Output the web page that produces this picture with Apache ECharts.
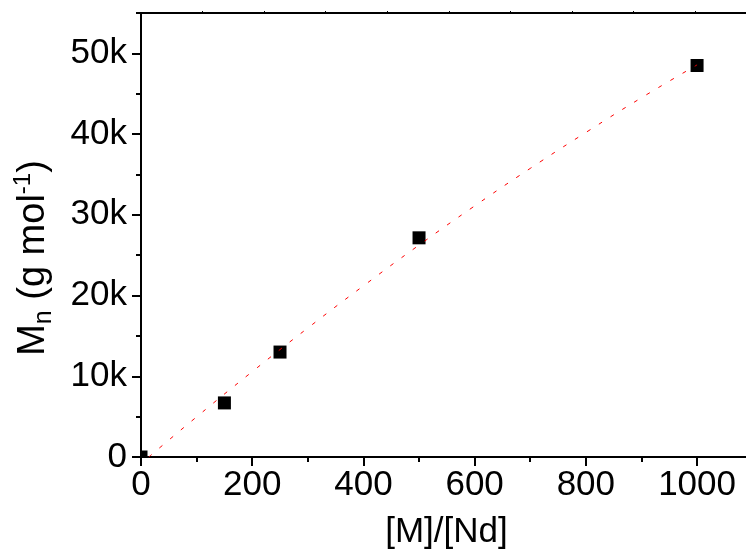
<!DOCTYPE html>
<html>
<head>
<meta charset="utf-8">
<script src="https://cdn.jsdelivr.net/npm/echarts@6/dist/echarts.min.js"></script>
<style>html,body{margin:0;padding:0;background:#fff}#c{width:746px;height:555px}</style>
</head>
<body>
<div id="c"></div>
<script>
// Data
const ratioX = [0, 150, 250, 500, 1000];            // [M]/[Nd]
const mnY = [0, 6700, 13000, 27150, 48500];        // Mn (g/mol)
// Dashed fit curve
const fitX = [14, 100, 200, 300, 400, 500, 600, 700, 800, 900, 1000];
const fitY = [0, 4970, 10570, 15980, 21200, 26250, 31100, 35750, 40200, 44500, 48570];
// Axis ticks
const xMajor = [0, 200, 400, 600, 800, 1000];
const xMinor = [100, 300, 500, 700, 900];
const yMajor = [0, 10000, 20000, 30000, 40000, 50000];
const yMinor = [5000, 15000, 25000, 35000, 45000, 55000];
const topTicks = [110.7, 221.4, 332.1, 442.8, 553.5, 664.2, 774.9, 885.6, 996.3];

const X_MAX = 1088, Y_MAX = 55000;
const FONT = 'Liberation Sans, Arial, sans-serif';

const chart = echarts.init(document.getElementById('c'), null, {renderer: 'canvas'});
const lineStyle = {color: '#000', width: 2};

const option = {
  animation: false,
  backgroundColor: '#fff',
  grid: {left: 141, top: 13, right: 0, bottom: 98, containLabel: false},
  xAxis: [
    {
      type: 'value', position: 'bottom', min: 0, max: X_MAX,
      axisLine: {show: true, onZero: false, lineStyle: lineStyle},
      axisTick: {show: true, inside: false, length: 9, lineStyle: {color: '#000', width: 2}, customValues: xMajor},
      axisLabel: {show: true, margin: 11, color: '#000', fontSize: 35, fontFamily: FONT, customValues: xMajor,
        formatter: v => String(v)},
      splitLine: {show: false},
      name: '[M]/[Nd]', nameLocation: 'middle', nameGap: 58,
      nameTextStyle: {color: '#000', fontSize: 35, fontFamily: FONT, padding: [0, 0, 0, 6]}
    },
    {
      type: 'value', position: 'bottom', min: 0, max: X_MAX,
      axisLine: {show: false, onZero: false},
      axisTick: {show: true, inside: false, length: 5, lineStyle: {color: '#000', width: 2}, customValues: xMinor},
      axisLabel: {show: false},
      splitLine: {show: false}
    },
    {
      type: 'value', position: 'top', min: 0, max: X_MAX,
      axisLine: {show: true, onZero: false, lineStyle: lineStyle},
      axisTick: {show: true, inside: false, length: 2, lineStyle: {color: '#000', width: 1}, customValues: topTicks},
      axisLabel: {show: false},
      splitLine: {show: false}
    }
  ],
  yAxis: [
    {
      type: 'value', position: 'left', min: 0, max: Y_MAX,
      axisLine: {show: true, onZero: false, lineStyle: lineStyle},
      axisTick: {show: true, inside: false, length: 9, lineStyle: {color: '#000', width: 2}, customValues: yMajor},
      axisLabel: {
        show: true, margin: 14, color: '#000', fontSize: 35, fontFamily: FONT, customValues: yMajor,
        formatter: v => v === 0 ? '0' : (v / 1000) + 'k'
      },
      splitLine: {show: false},
      name: '{a|M}{s|n}{a| (g mol}{p|-1}{a|)}',
      nameLocation: 'middle', nameGap: 84,
      nameTextStyle: {
        color: '#000', fontFamily: FONT, padding: [0, 46, 0, 0],
        rich: {
          a: {fontSize: 38, fontFamily: FONT, color: '#000', lineHeight: 46},
          s: {fontSize: 25, fontFamily: FONT, color: '#000', verticalAlign: 'bottom'},
          p: {fontSize: 24, fontFamily: FONT, color: '#000', verticalAlign: 'top'}
        }
      }
    },
    {
      type: 'value', position: 'left', min: 0, max: Y_MAX,
      axisLine: {show: false, onZero: false},
      axisTick: {show: true, inside: false, length: 5, lineStyle: {color: '#000', width: 2}, customValues: yMinor},
      axisLabel: {show: false},
      splitLine: {show: false}
    }
  ],
  series: [
    {
      type: 'custom', xAxisIndex: 0, yAxisIndex: 0,
      data: ratioX.map((x, i) => [x, mnY[i]]),
      encode: {x: 0, y: 1},
      clip: true, z: 2,
      renderItem: function (params, api) {
        const p = api.coord([api.value(0), api.value(1)]);
        const s = 13;
        return {type: 'rect', shape: {x: p[0] - s / 2, y: p[1] - s / 2, width: s, height: s},
          style: {fill: '#000'}};
      }
    },
    {
      type: 'line', xAxisIndex: 0, yAxisIndex: 0,
      data: fitX.map((x, i) => [x, fitY[i]]),
      smooth: true, showSymbol: false, symbol: 'none',
      lineStyle: {color: '#ff0000', width: 1, type: [4, 10]},
      clip: true, z: 3
    }
  ]
};
chart.setOption(option);
</script>
</body>
</html>
